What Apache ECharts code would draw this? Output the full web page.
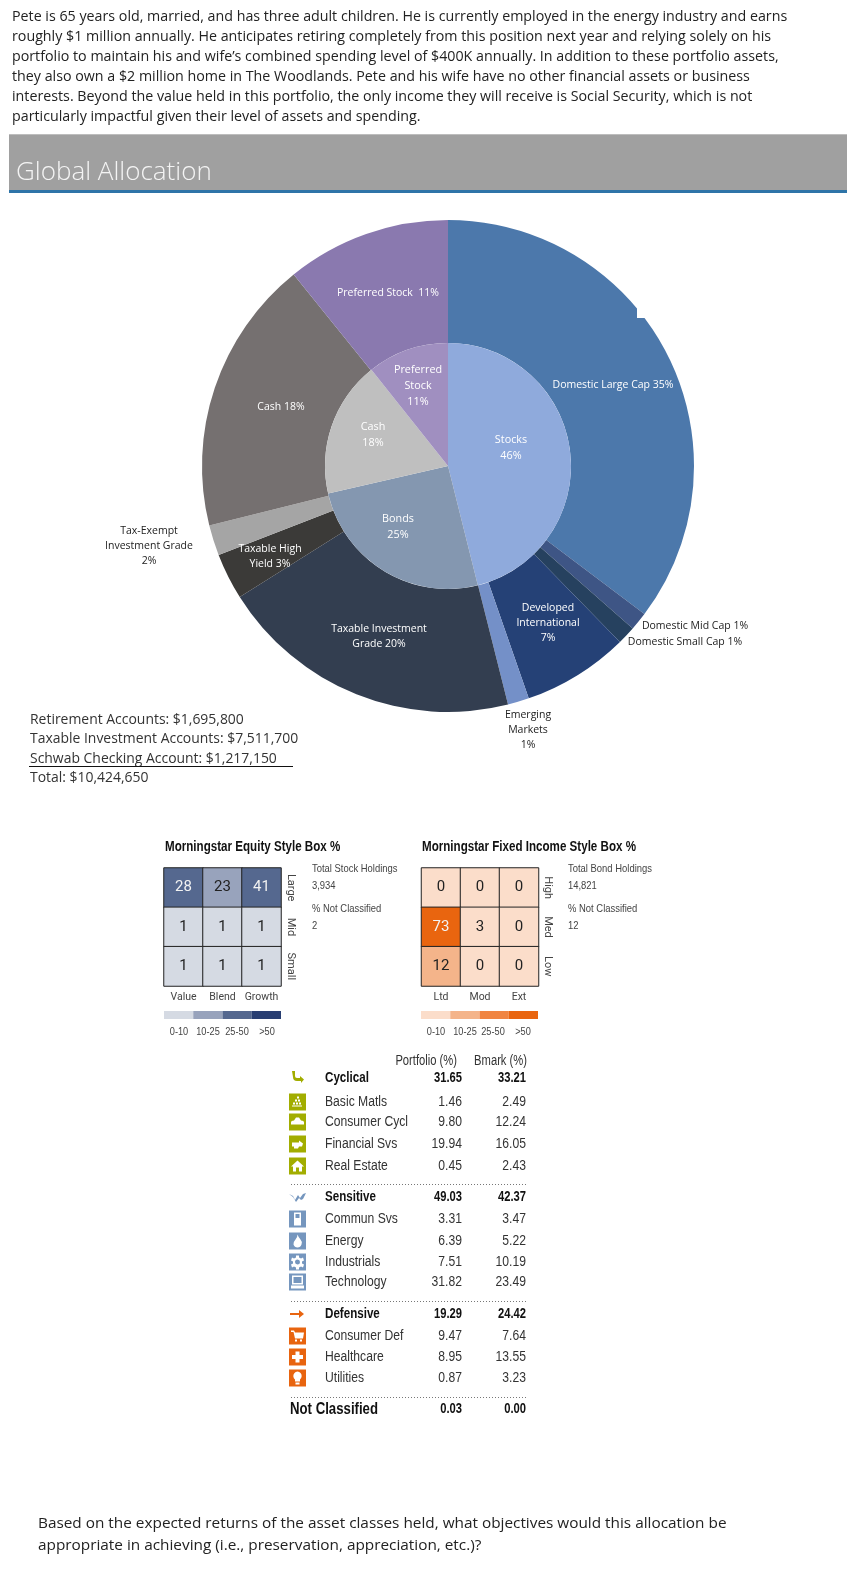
<!DOCTYPE html>
<html><head><meta charset="utf-8">
<style>html,body{margin:0;padding:0;background:#fff}#c{width:858px;height:1580px}</style>
<script src="https://cdn.jsdelivr.net/npm/echarts@6/dist/echarts.min.js"></script>
</head><body><div id="c"></div>
<script>
// ---- data ----
const introLines = [
 "Pete is 65 years old, married, and has three adult children. He is currently employed in the energy industry and earns",
 "roughly $1 million annually. He anticipates retiring completely from this position next year and relying solely on his",
 "portfolio to maintain his and wife\u2019s combined spending level of $400K annually. In addition to these portfolio assets,",
 "they also own a $2 million home in The Woodlands. Pete and his wife have no other financial assets or business",
 "interests. Beyond the value held in this portfolio, the only income they will receive is Social Security, which is not",
 "particularly impactful given their level of assets and spending."];
const outroLines = [
 "Based on the expected returns of the asset classes held, what objectives would this allocation be",
 "appropriate in achieving (i.e., preservation, appreciation, etc.)?"];
const accountLines = ["Retirement Accounts: $1,695,800","Taxable Investment Accounts: $7,511,700","Schwab Checking Account: $1,217,150","Total: $10,424,650"];
const outerNames = ["Domestic Large Cap","Domestic Mid Cap","Domestic Small Cap","Developed\nInternational\n","Emerging\nMarkets\n","Taxable Investment\nGrade","Taxable High\nYield","Tax-Exempt\nInvestment Grade\n","Cash","Preferred Stock "];
const outerValues = [35.3,1.2,1.2,7.0,1.4,20.0,3.05,2.0,18.1,10.8];
const outerColors = ["#4C78AB","#3E5585","#26415F","#254176","#7490C8","#333E50","#3B3A38","#A5A5A5","#757070","#8A79AF"];
const innerNames = ["Stocks\n","Bonds\n","Cash\n","Preferred\nStock\n"];
const innerValues = [46.1,25.3,17.9,10.7];
const innerColors = ["#8FAADC","#8497B0","#BFBFBF","#A08FC0"];
const equityCols = ["Value","Blend","Growth"], equityRows = ["Large","Mid","Small"];
const equityBox = [[28,23,41],[1,1,1],[1,1,1]];
const fixedCols = ["Ltd","Mod","Ext"], fixedRows = ["High","Med","Low"];
const fixedBox = [[0,0,0],[73,3,0],[12,0,0]];
const legendRanges = ["0-10","10-25","25-50",">50"];
const equityScale = ["#D5DAE3","#98A3BC","#55688F","#283E72"];
const fixedScale = ["#FBDDCA","#F4B48A","#F08542","#E9650F"];
const sectorNames = ["Cyclical","Basic Matls","Consumer Cycl","Financial Svs","Real Estate","Sensitive","Commun Svs","Energy","Industrials","Technology","Defensive","Consumer Def","Healthcare","Utilities","Not Classified"];
const portfolioVals = ["31.65","1.46","9.80","19.94","0.45","49.03","3.31","6.39","7.51","31.82","19.29","9.47","8.95","0.87","0.03"];
const bmarkVals = ["33.21","2.49","12.24","16.05","2.43","42.37","3.47","5.22","10.19","23.49","24.42","7.64","13.55","3.23","0.00"];

// ---- layout & style ----
const UI = "'Open Sans'", NARROW = "'Liberation Sans'", CELL = "Roboto";
const outerAnchors = [[613,385],[695,626],[685,642],[548,623],[528,730],[379,637],[270,557],[149,546],[281,407],[388,293]];
const innerAnchors = [[511,448],[398,527],[373,435],[418,386]];
const blackOuter = [1,2,4,7];
const rowY = [1078,1102,1122,1144,1166,1197,1219,1241,1262,1282,1314,1336,1357,1378,1409];
const boldRows = [0,5,10,14];
const G="#A2AD00", B="#7596BE", O="#E8640F";
const icons = {
 1:[G,"M8 3h2v2H8zM6 6h2v2H6zM9 6h2v2H9zM4 9h2v2H4zM7 9h2v2H7zM10 9h2v2h-2zM3 12h10v1H3z"],
 2:[G,"M2 9q0-2 3-2 l2-3h3l2 3q3 0 3 2v2H2z"],
 3:[G,"M3 7h7v-2l4 3-1 3h-3l-1 2H5v-2H3z"],
 4:[G,"M8.500 3L15 9h-2v5H10V10H7v4H4V9H2z"],
 6:[B,"M5 2h7v13H5zM6.500 3.500v4h4v-4zM7 9h1v1H7zM9 9h1v1H9zM7 11h1v1H7zM9 11h1v1H9z"],
 7:[B,"M8.500 2q1 3 3 5t1 5q-1 3-4 3t-4-3q0-3 2-5t2-5z"],
 8:[B,"M7 2h3v2l2 1 2-1 1 3-2 1v2l2 1-1 3-2-1-2 1v2H7v-2l-2-1-2 1-1-3 2-1V8L2 7l1-3 2 1 2-1zM8.500 6a2.500 2.500 0 1 0 .01 0z"],
 9:[B,"M3 2h11v9H3zM4.500 3.500v6h8v-6zM2 12h13v3H2z"],
 11:[O,"M2 3h3l1 2h9l-1 6H6L4.500 4.500H2zM6 12h2v2H6zM11 12h2v2h-2z"],
 12:[O,"M6.500 3h4v3.500H14v4h-3.500V14h-4v-3.500H3v-4h3.500z"],
 13:[O,"M8.500 2a4.500 4.500 0 0 1 2.500 8v2H6v-2a4.500 4.500 0 0 1 2.500-8zM6.500 13h4v2h-4z"]
};
const g = [];
let shapeId = 0;
function glyph(d,x,y,fill){
  const name='glyph'+(shapeId++);
  echarts.graphic.registerShape(name,echarts.graphic.extendPath(d,{}));
  g.push({type:name,silent:true,z:8,x,y,style:{fill}});
}
function txt(text,x,y,o={}) {
  const narrow = o.family===NARROW;
  g.push({type:'text',x,y,silent:true,z:20,scaleX:narrow?0.8:1,
    style:{text,fill:o.color||'#222',font:(o.weight||'normal')+' '+(o.size||13)+'px '+(o.family||UI),textAlign:o.align||'left',textVerticalAlign:'middle'}});
}
function rect(x,y,w,h,fill,z){ g.push({type:'rect',silent:true,z:z||5,shape:{x,y,width:w,height:h},style:{fill}}); }

introLines.forEach((t,i)=>txt(t,12,17+i*20,{size:14.25,color:'#222'}));
outroLines.forEach((t,i)=>txt(t,38,1524+i*22,{size:15.35,color:'#222'}));
accountLines.forEach((t,i)=>txt(t,30,720+i*19.5,{size:13.95,color:'#333'}));
g.push({type:'line',silent:true,z:20,shape:{x1:29,y1:766.500,x2:293,y2:766.500},style:{stroke:'#111',lineWidth:1}});

rect(9,134,838,56,'#A0A0A0');
rect(9,134,838,1,'#BDBDBD',6);
rect(9,190,838,3,'#2E74A8');
txt("Global Allocation",16,173,{size:26,color:'#F4F4F4',weight:'300'});
rect(637,300,12,18,'#FFFFFF',15);

// style boxes text
function boxText(title,x,sideX,h1,h2,v1,v2,scale,xs){
  txt(title,x,847,{size:14.500,weight:'bold',family:NARROW,color:'#111'});
  txt(h1,sideX,869,{size:11.800,family:NARROW,color:'#444'}); txt(v1,sideX,886,{size:11.800,family:NARROW,color:'#444'});
  txt(h2,sideX,909,{size:11.800,family:NARROW,color:'#444'}); txt(v2,sideX,926,{size:11.800,family:NARROW,color:'#444'});
  scale.forEach((c,i)=>{ rect(x-1+i*29.25,1011,29.25,8,c); txt(legendRanges[i],xs[i],1032,{size:11.500,family:NARROW,color:'#444',align:'center'}); });
}
boxText("Morningstar Equity Style Box %",165,312,"Total Stock Holdings","% Not Classified","3,934","2",equityScale,[179,208,237,267]);
boxText("Morningstar Fixed Income Style Box %",422,568,"Total Bond Holdings","% Not Classified","14,821","12",fixedScale,[436,465,493,523]);

// table
txt("Portfolio (%)",457,1061,{size:14,family:NARROW,align:'right',color:'#333'});
txt("Bmark (%)",527,1061,{size:14,family:NARROW,align:'right',color:'#333'});
sectorNames.forEach((n,i)=>{
  const bold = boldRows.includes(i), last = i===14;
  const o = {size: last?16.500:(bold?14.500:15.200), weight: bold?'bold':'normal', family:NARROW, color: bold?'#111':'#333'};
  txt(n,last?290:325,rowY[i],o);
  txt(portfolioVals[i],462,rowY[i],{...o,align:'right',size:bold?14:15.200});
  txt(bmarkVals[i],526,rowY[i],{...o,align:'right',size:bold?14:15.200});
  const ic = icons[i];
  if(ic){ rect(289,rowY[i]-8.500,17,17,ic[0]); glyph(ic[1],289,rowY[i]-8.500,'#fff'); }
});
[1184.500,1301.500,1397.500].forEach(y=>g.push({type:'line',silent:true,z:5,shape:{x1:291,y1:y,x2:526,y2:y},style:{stroke:'#777',lineWidth:1,lineDash:[1,2]}}));
glyph("M2 2h3v5q0 2 2 2h3V7l4 3.500-3 3.500v-2H7q-4 0-4-4z",290,1069,G);
glyph("M0 5l4 2 2 4 3-5 2 3 3-4 3-1-3 6-2 1-2-2-3 4-3-5z",289,1189,B);
glyph("M0 7h9V4l5 4-5 4V9H0z",290,1306,O);

function cells(m,scale){
  const out=[];
  m.forEach((r,y)=>r.forEach((v,x)=>{
    const b = v>50?3:v>25?2:v>10?1:0;
    out.push({value:[x,y,v],itemStyle:{color:scale[b]},label:{color:b>=2?'#F2F2F2':'#222'}});
  })); return out;
}
function axes(idx,cols,rows){
  return [{gridIndex:idx,type:'category',data:cols,position:'bottom',axisLine:{show:false},axisTick:{show:false},splitLine:{show:false},
           axisLabel:{interval:0,hideOverlap:false,margin:6,fontFamily:CELL,fontSize:10.500,color:'#444'}},
          {gridIndex:idx,type:'category',data:rows,inverse:true,position:'right',axisLine:{show:false},axisTick:{show:false},splitLine:{show:false},
           axisLabel:{interval:0,hideOverlap:false,rotate:-90,margin:4,fontFamily:CELL,fontSize:11,color:'#444'}}];
}
const ax1=axes(0,equityCols,equityRows), ax2=axes(1,fixedCols,fixedRows);
const heat=(i,m,s)=>({type:'heatmap',xAxisIndex:i,yAxisIndex:i,data:cells(m,s),silent:true,
  itemStyle:{borderColor:'#222',borderWidth:1},label:{show:true,fontFamily:CELL,fontSize:15,formatter:p=>p.value[2]},emphasis:{disabled:true}});
const pieBase=(anchors)=>({
  silent:true,type:'pie',center:[448,466],startAngle:90,clockwise:true,avoidLabelOverlap:false,
  labelLine:{show:false},emphasis:{disabled:true},
  labelLayout:p=>({x:anchors[p.dataIndex][0],y:anchors[p.dataIndex][1],align:'center',verticalAlign:'middle'})
});
const fmt=(n,v)=>n+(n.endsWith('\n')?'':' ')+Math.round(v)+'%';
const chart=echarts.init(document.getElementById('c'),null,{width:858,height:1580,renderer:'canvas'});
chart.setOption({
  animation:false,backgroundColor:'#fff',
  grid:[{left:164,top:868,width:117,height:118},{left:421.500,top:868,width:117,height:118}],
  xAxis:[ax1[0],ax2[0]],yAxis:[ax1[1],ax2[1]],
  graphic:{elements:g},
  series:[
   {...pieBase(outerAnchors),radius:[123,246],z:2,
    data:outerNames.map((n,i)=>({name:n,value:outerValues[i],itemStyle:{color:outerColors[i]},
      label:{show:true,position:'inside',formatter:fmt(n,outerValues[i]),fontFamily:UI,fontSize:10.500,lineHeight:15,align:'center',color:blackOuter.includes(i)?'#222':'#fff'}}))},
   {...pieBase(innerAnchors),radius:[0,123],z:3,
    data:innerNames.map((n,i)=>({name:n,value:innerValues[i],itemStyle:{color:innerColors[i]},
      label:{show:true,position:'inside',formatter:fmt(n,innerValues[i]),fontFamily:UI,fontSize:10.800,lineHeight:16,align:'center',color:'#fff'}}))},
   heat(0,equityBox,equityScale),heat(1,fixedBox,fixedScale)
  ]
});
</script></body></html>
